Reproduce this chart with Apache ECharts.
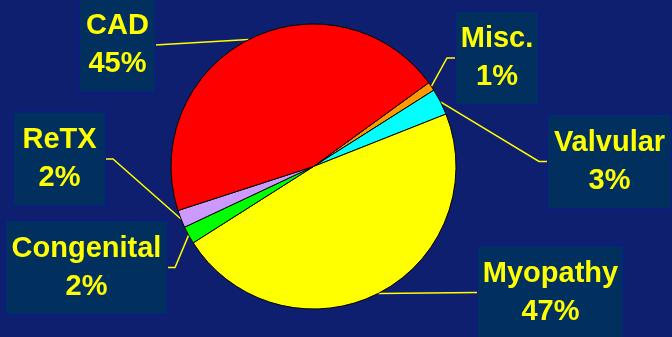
<!DOCTYPE html>
<html>
<head>
<meta charset="utf-8">
<script src="https://cdn.jsdelivr.net/npm/echarts@6/dist/echarts.min.js"></script>
<style>
  html, body { margin: 0; padding: 0; background: #0f1f6f; }
  #chart { width: 672px; height: 337px; }
</style>
</head>
<body>
<div id="chart"></div>
<script>
// Causes, listed clockwise from the top-right slice
const causes = ['Misc.', 'Valvular', 'Myopathy', 'Congenital', 'ReTX', 'CAD'];
const shares = [1, 3, 47, 2, 2, 45];
const sliceColors = ['#ff9900', '#00ffff', '#ffff00', '#00ff00', '#cc99ff', '#ff0000'];

// Callout boxes: centre, width, and horizontal elbow of the leader line
const callouts = {
  'CAD':        { cx: 117.5, cy: 45,    w: 75,  elbow: 0 },
  'Misc.':      { cx: 497,   cy: 58,    w: 82,  elbow: 9 },
  'Valvular':   { cx: 609.5, cy: 161.5, w: 123, elbow: 9 },
  'Myopathy':   { cx: 550.5, cy: 292.5, w: 145, elbow: 0 },
  'Congenital': { cx: 86.5,  cy: 267.5, w: 161, elbow: 8 },
  'ReTX':       { cx: 59.5,  cy: 159,   w: 91,  elbow: 8 }
};

const pieCenter = [313.5, 166.5];
const padX = 4;

const chart = echarts.init(document.getElementById('chart'), null, { renderer: 'canvas' });

chart.setOption({
  backgroundColor: '#0f1f6f',
  animation: false,
  series: [{
    type: 'pie',
    center: pieCenter,
    radius: 142.5,
    startAngle: 36,
    clockwise: true,
    avoidLabelOverlap: false,
    emphasis: { disabled: true },
    itemStyle: { borderColor: '#000000', borderWidth: 1 },
    data: causes.map((name, i) => ({
      name: name,
      value: shares[i],
      itemStyle: { color: sliceColors[i] },
      label: { width: callouts[name].w - 2 * padX }
    })),
    label: {
      show: true,
      position: 'outside',
      formatter: '{b}\n{c}%',
      color: '#ffff00',
      fontFamily: 'Liberation Sans, Arial, sans-serif',
      fontWeight: 'bold',
      fontSize: 29,
      lineHeight: 38,
      align: 'center',
      backgroundColor: '#01305f',
      borderColor: '#0b1890',
      borderWidth: 1,
      padding: [10, padX, 7, padX]
    },
    labelLine: {
      show: true,
      length: 10,
      length2: 10,
      smooth: false,
      lineStyle: { color: '#ffff00', width: 1.5 }
    },
    labelLayout: function (params) {
      const name = causes[params.dataIndex];
      const c = callouts[name];
      const edge = params.labelLinePoints[0];
      const onLeft = c.cx < pieCenter[0];
      const endX = onLeft ? c.cx + c.w / 2 : c.cx - c.w / 2;
      const elbowX = onLeft ? endX + c.elbow : endX - c.elbow;
      return {
        x: c.cx,
        y: c.cy,
        align: 'center',
        verticalAlign: 'middle',
        labelLinePoints: [
          [edge[0], edge[1]],
          [elbowX, c.cy],
          [endX, c.cy]
        ]
      };
    }
  }]
});
</script>
</body>
</html>
